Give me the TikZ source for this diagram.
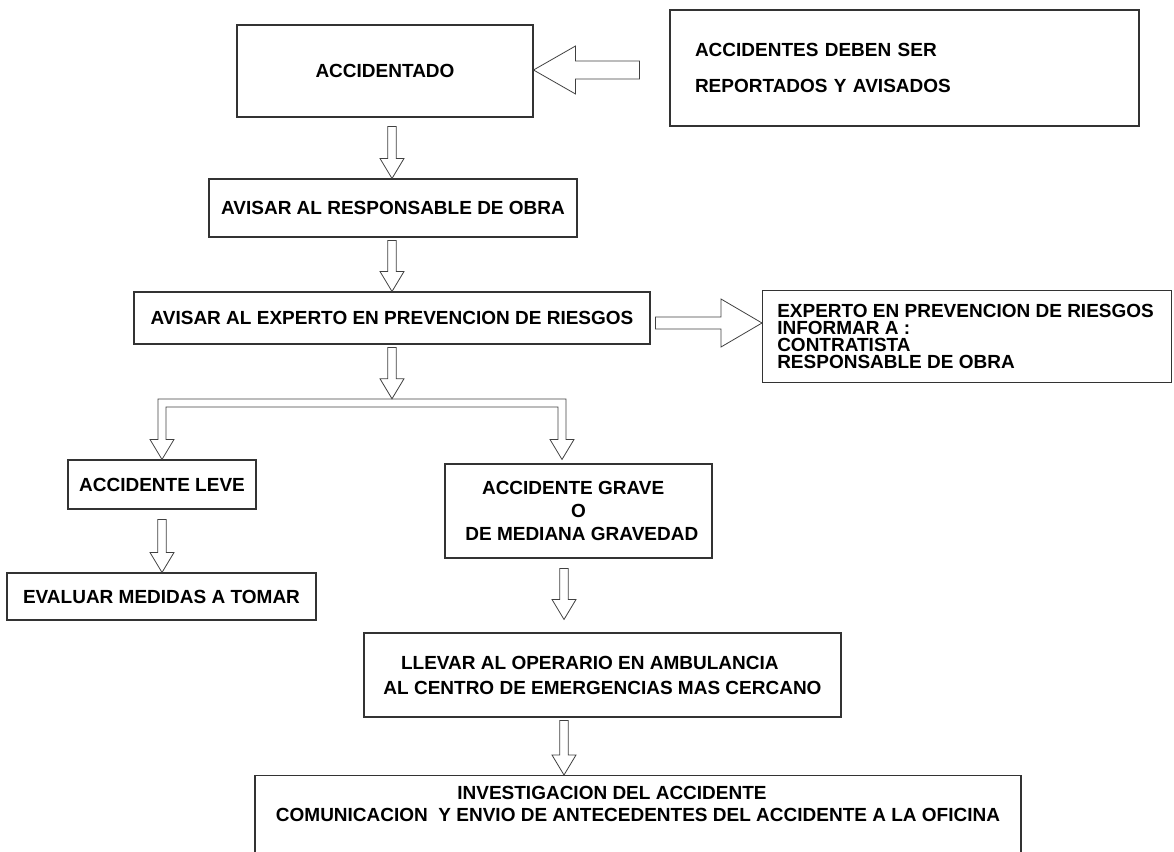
\documentclass[tikz,border=0pt]{standalone}
\usepackage{fontspec}
\setmainfont{Liberation Sans}
\usetikzlibrary{calc}
\tikzset{
caja/.style={draw=black!80, line width=0.8pt, align=center, inner sep=0pt,
	font=\bfseries\fontsize{14.25}{17}\selectfont},
texto/.style={inner sep=0pt, font=\bfseries\fontsize{14.25}{17}\selectfont},
hueca/.style={draw=black!75, line width=0.6pt}
}
\newcommand{\bajar}[5]{%
\draw[hueca] let \p1=(#2.south), \p2=(#3.north), \p3=(#1,0) in
	(\x3-3.2pt,\y1-#4) -- (\x3-3.2pt,\y2+15pt+#5) -- (\x3-9pt,\y2+15pt+#5)
	-- (\x3,\y2+#5) -- (\x3+9pt,\y2+15pt+#5) -- (\x3+3.2pt,\y2+15pt+#5)
	-- (\x3+3.2pt,\y1-#4) -- cycle;}

\begin{document}
\begin{tikzpicture}[x=0.75pt, y=-0.75pt]
	\useasboundingbox (0,0) rectangle (1174,852);
	\clip (0,0) rectangle (1174,852);
	\node[caja, minimum width=222pt, minimum height=69pt] (acc) at (385,71) {ACCIDENTADO};
	\node[caja, minimum width=351.75pt, minimum height=87pt, text width=314.25pt,
		align=left, inner xsep=18.75pt] (rep) at (904.5,68)
		{ACCIDENTES DEBEN SER\\[10pt] REPORTADOS Y AVISADOS};
	\node[caja, minimum width=276pt, minimum height=43.5pt] (resp) at (393,208)
		{AVISAR AL RESPONSABLE DE OBRA};
	\node[caja, minimum width=387pt, minimum height=39pt] (exp) at (392,318)
		{AVISAR AL EXPERTO EN PREVENCION DE RIESGOS};
	\node[caja, minimum width=306.75pt, minimum height=69pt, anchor=north west] (inf)
		at (762,290) {};
	\node[texto, align=left, anchor=north west,
		font=\bfseries\fontsize{14.25}{12.75}\selectfont] (inftxt) at (777,304)
		{EXPERTO EN PREVENCION DE RIESGOS\\ INFORMAR A :\\ CONTRATISTA\\ RESPONSABLE DE OBRA};
	\node[inner sep=0pt, minimum size=0pt] (split) at (392,399) {};
	\node[caja, minimum width=141pt, minimum height=36.75pt] (leve) at (162,484.5)
		{ACCIDENTE LEVE};
	\node[caja, minimum width=231.75pt, minimum height=35.25pt] (eval) at (161.5,596.5)
		{EVALUAR MEDIDAS A TOMAR};
	\node[caja, minimum width=200.25pt, minimum height=70.5pt] (grave) at (578.5,511)
		{ACCIDENTE GRAVE\hspace*{8pt}\\ O\hspace*{22pt}\\ \hspace*{5pt}DE MEDIANA GRAVEDAD};
	\node[caja, minimum width=357.75pt, minimum height=63pt] (llevar) at (602.5,675)
		{LLEVAR AL OPERARIO EN AMBULANCIA\hspace*{19pt}\\[1.75pt]
		AL CENTRO DE EMERGENCIAS MAS CERCANO};
	\node[caja, minimum width=574.5pt, minimum height=90pt, anchor=north] (inv)
		at (638,775) {};
	\node[texto, align=center] (invtxt) at (638,804)
		{INVESTIGACION DEL ACCIDENTE\hspace*{39pt}\\
		COMUNICACION\ \ Y ENVIO DE ANTECEDENTES DEL ACCIDENTE A LA OFICINA};

	\draw[hueca] let \p1=(rep.west), \p2=(acc.east), \p3=(0,70) in
		(\x1-22.5pt,\y3+6.75pt) -- (\x2+31.5pt,\y3+6.75pt) -- (\x2+31.5pt,\y3+18pt)
		-- (\x2,\y3) -- (\x2+31.5pt,\y3-18pt) -- (\x2+31.5pt,\y3-6.75pt)
		-- (\x1-22.5pt,\y3-6.75pt) -- cycle;
	\draw[hueca] let \p1=(exp.east), \p2=(inf.west), \p3=(0,323) in
		(\x1+3.75pt,\y3+4.5pt) -- (\x2-30.75pt,\y3+4.5pt) -- (\x2-30.75pt,\y3+18pt)
		-- (\x2,\y3) -- (\x2-30.75pt,\y3-18pt) -- (\x2-30.75pt,\y3-4.5pt)
		-- (\x1+3.75pt,\y3-4.5pt) -- cycle;
	\bajar{392}{acc}{resp}{6.75pt}{0pt}
	\bajar{392}{resp}{exp}{2.25pt}{0pt}
	\bajar{392}{exp}{split}{2.25pt}{0pt}
	\draw[hueca] let \p1=(split), \p2=(leve.north), \p3=(562,0) in
		(\x2-3pt,\y2+15pt) -- (\x2-3pt,\y1) -- (\x3+3pt,\y1) -- (\x3+3pt,\y2+15pt)
		-- (\x3+9pt,\y2+15pt) -- (\x3,\y2) -- (\x3-9pt,\y2+15pt) -- (\x3-3pt,\y2+15pt)
		-- (\x3-3pt,\y1-6pt) -- (\x2+3pt,\y1-6pt) -- (\x2+3pt,\y2+15pt)
		-- (\x2+9pt,\y2+15pt) -- (\x2,\y2) -- (\x2-9pt,\y2+15pt) -- cycle;
	\bajar{162}{leve}{eval}{7.5pt}{0pt}
	\bajar{564}{grave}{llevar}{7.5pt}{9.75pt}
	\bajar{564}{llevar}{inv}{2.25pt}{0pt}
\end{tikzpicture}
\end{document}
